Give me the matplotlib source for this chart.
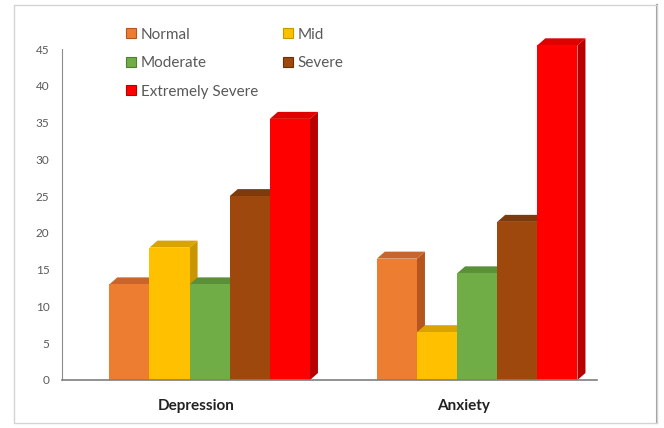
import matplotlib.pyplot as plt
from matplotlib.patches import Patch, Polygon, Rectangle
from matplotlib.lines import Line2D

plt.rcParams['font.family'] = ['Lato', 'DejaVu Sans']

groups = ['Depression', 'Anxiety']
levels = ['Normal', 'Mid', 'Moderate', 'Severe', 'Extremely Severe']
depression = [13, 18, 13, 25, 35.5]
anxiety = [16.5, 6.5, 14.5, 21.5, 45.5]
yticks = [0, 5, 10, 15, 20, 25, 30, 35, 40, 45]

front = ['#ED7D31', '#FFC000', '#70AD47', '#9E480E', '#FF0000']
top = ['#C9652A', '#D9A300', '#5A9038', '#7E3A0B', '#E00000']
side = ['#B5561F', '#C99600', '#4E7E31', '#6B300A', '#B80000']

W, H = 664, 428
fig = plt.figure(figsize=(W / 100, H / 100), dpi=100)

# outer chart frame
fig.patches.append(Rectangle((14 / W, 5 / H), 643 / W, 418 / H, transform=fig.transFigure,
                             facecolor='none', edgecolor='#d4d4d4', lw=1, zorder=-5))
fig.lines.append(Line2D([657 / W, 657 / W], [5 / H, 423 / H], transform=fig.transFigure,
                        color='#9a9a9a', lw=1.5, zorder=-5))

ax = fig.add_axes([62 / W, 48 / H, 535 / W, 331 / H])
ax.set_xlim(0, 2)
ax.set_ylim(0, 45)
ax.patch.set_alpha(0)

# depth of the pseudo-3D faces, in pixels
dx_px, dy_px = 8, 7
inv = ax.transData.inverted()
p0 = inv.transform(ax.transData.transform((0, 0)))
p1 = inv.transform(ax.transData.transform((0, 0)) + [dx_px, dy_px])
ddx, ddy = p1 - p0

bw = 0.15
shift = 0.052
for g, vals in enumerate([depression, anxiety]):
    centre = g + 0.5 + shift
    for i, v in enumerate(vals):
        x0 = centre + (i - 2) * bw - bw / 2
        x1 = x0 + bw
        # side face first so neighbours overlap it
        ax.add_patch(Polygon([(x1, 0), (x1 + ddx, ddy), (x1 + ddx, v + ddy), (x1, v)],
                             closed=True, facecolor=side[i], edgecolor='none', clip_on=False))
        ax.add_patch(Polygon([(x0, v), (x0 + ddx, v + ddy), (x1 + ddx, v + ddy), (x1, v)],
                             closed=True, facecolor=top[i], edgecolor='none', clip_on=False))
        ax.add_patch(Rectangle((x0, 0), bw, v, facecolor=front[i], edgecolor='none',
                               clip_on=False))

for s in ['top', 'right']:
    ax.spines[s].set_visible(False)
ax.spines['left'].set_color('#8c8c8c')
ax.spines['bottom'].set_color('#7f7f7f')
ax.spines['bottom'].set_linewidth(1.2)

ax.set_yticks(yticks)
ax.tick_params(axis='y', length=0, pad=9, labelsize=8.5, labelcolor='#595959')
ax.set_xticks([0.5, 1.5])
ax.set_xticklabels(groups, fontsize=11, fontweight='bold', color='#222222')
ax.tick_params(axis='x', length=0, pad=14)

handles = [Patch(facecolor=front[i], edgecolor=side[i], lw=0.8) for i in range(5)]
order = [0, 2, 4, 1, 3]
ax.legend([handles[i] for i in order], [levels[i] for i in order], ncol=2,
          loc='upper left', bbox_to_anchor=(118 / W, 1 - 20 / H),
          bbox_transform=fig.transFigure, frameon=False, fontsize=11,
          labelcolor='#595959', handlelength=0.65, handleheight=0.65,
          handletextpad=0.35, labelspacing=0.95, columnspacing=1.6, borderpad=0)

fig.savefig('out.png', dpi=100)
